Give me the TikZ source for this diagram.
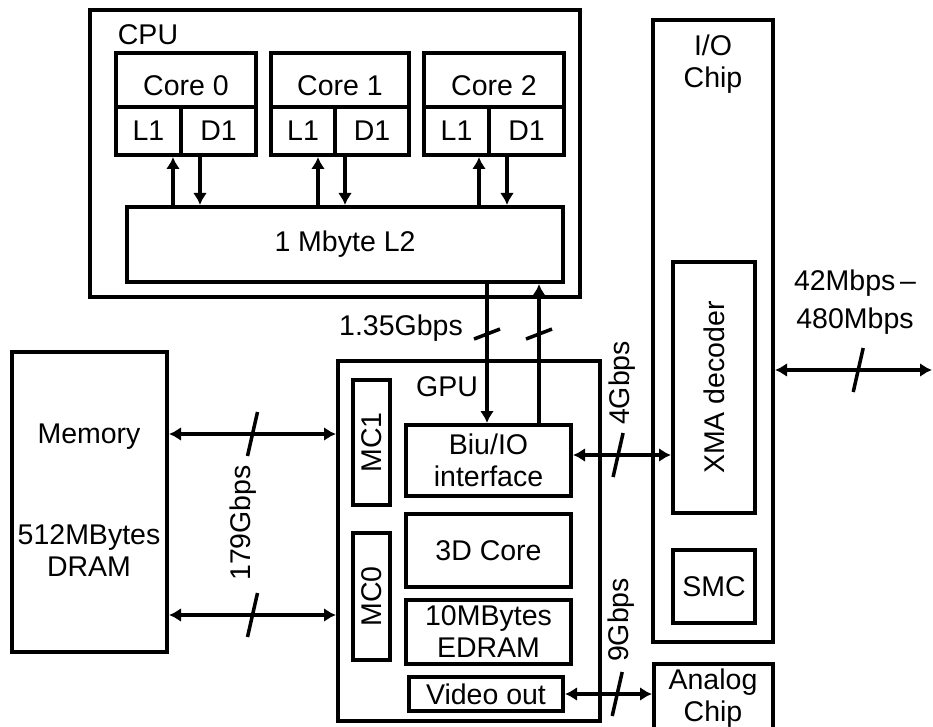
\documentclass[tikz,border=0pt]{standalone}
\usepackage{fontspec}
\setmainfont{Liberation Sans}
\usetikzlibrary{arrows.meta,calc}
\newcommand{\cutH}[1]{\draw[cutmark] ($(#1)+(-5,22)$) -- ($(#1)+(5,-22)$);}
\newcommand{\cutV}[1]{\draw[cutmark] ($(#1)+(-13,5)$) -- ($(#1)+(13,-5)$);}

\begin{document}
\begin{tikzpicture}[x=1pt,y=-1pt,font=\fontsize{28.5}{32}\selectfont,
  blk/.style={draw,line width=4pt,inner sep=0pt,align=center},
  corebox/.style={blk,text height=32pt,text depth=0pt},
  lbl/.style={inner sep=0pt,align=center},
  arr/.style={line width=3.5pt,-{Latex[length=12pt,width=14pt]}},
  biarr/.style={line width=3.5pt,{Latex[length=12pt,width=14pt]}-{Latex[length=12pt,width=14pt]}},
  cutmark/.style={line width=3.5pt}]
\useasboundingbox (0,0) rectangle (933,727);
% ---------------- CPU ----------------
\node[blk,minimum width=490pt,minimum height=287pt] (cpu) at (335,153.5) {};
\node[lbl] (cpulab) at (148,35) {CPU};
\node[corebox,minimum width=140pt,minimum height=54pt] (core0) at (186,80) {Core 0};
\node[blk,minimum width=65pt,minimum height=48pt] (l1a) at (148.5,131) {L1};
\node[blk,minimum width=75pt,minimum height=48pt] (d1a) at (218.5,131) {D1};
\node[corebox,minimum width=138pt,minimum height=54pt] (core1) at (340,80) {Core 1};
\node[blk,minimum width=64pt,minimum height=48pt] (l1b) at (303,131) {L1};
\node[blk,minimum width=74pt,minimum height=48pt] (d1b) at (372,131) {D1};
\node[corebox,minimum width=140pt,minimum height=54pt] (core2) at (494,80) {Core 2};
\node[blk,minimum width=65pt,minimum height=48pt] (l1c) at (456.5,131) {L1};
\node[blk,minimum width=75pt,minimum height=48pt] (d1c) at (526.5,131) {D1};
\node[blk,minimum width=436pt,minimum height=75pt] (l2) at (345,244.5) {1 Mbyte L2};
% core <-> L2 links
\coordinate (u0) at (173,0);
\coordinate (w0) at (200,0);
\coordinate (u1) at (318,0);
\coordinate (w1) at (345,0);
\coordinate (u2) at (479,0);
\coordinate (w2) at (507,0);
\draw[arr] (l2.north -| u0) -- (l1a.south -| u0);
\draw[arr] (d1a.south -| w0) -- (l2.north -| w0);
\draw[arr] (l2.north -| u1) -- (l1b.south -| u1);
\draw[arr] (d1b.south -| w1) -- (l2.north -| w1);
\draw[arr] (l2.north -| u2) -- (l1c.south -| u2);
\draw[arr] (d1c.south -| w2) -- (l2.north -| w2);
% ---------------- GPU ----------------
\node[blk,minimum width=262pt,minimum height=360pt] (gpu) at (469,541) {};
\node[lbl] (gpulab) at (447,387) {GPU};
\node[blk,rotate=90,minimum width=125pt,minimum height=37pt] (mc1) at (371.5,442.5) {MC1};
\node[blk,rotate=90,minimum width=127pt,minimum height=37pt] (mc0) at (371.5,596.5) {MC0};
\node[blk,minimum width=165pt,minimum height=71pt] (biu) at (488.5,460.5) {Biu/IO\\interface};
\node[blk,minimum width=165pt,minimum height=73pt] (core3d) at (488.5,550.5) {3D Core};
\node[blk,minimum width=165pt,minimum height=64pt] (edram) at (488.5,632) {10MBytes\\EDRAM};
\node[blk,minimum width=154pt,minimum height=34pt] (vid) at (486,694) {Video out};
% L2 <-> GPU
\coordinate (dn) at (487,0);
\coordinate (up) at (539,0);
\draw[arr] (l2.south -| dn) -- (biu.north -| dn) coordinate[pos=0.36] (cutdn);
\draw[arr] (biu.north -| up) -- (l2.south -| up) coordinate[pos=0.64] (cutup);
\cutV{cutdn}
\cutV{cutup}
\node[lbl] (l2bw) at (401,328) {1.35Gbps};
% ---------------- Memory ----------------
\node[blk,minimum width=155pt,minimum height=300pt] (mem) at (89.5,502) {};
\node[lbl] (memlab) at (89,437) {Memory};
\node[lbl] (dramlab) at (89,551) {512MBytes\\DRAM};
\coordinate (ma) at (0,434);
\coordinate (mb) at (0,615);
\draw[biarr] (mem.east |- ma) -- (gpu.west |- ma) coordinate[pos=0.5] (cutma);
\draw[biarr] (mem.east |- mb) -- (gpu.west |- mb) coordinate[pos=0.5] (cutmb);
\cutH{cutma}
\cutH{cutmb}
\node[lbl,rotate=90] (membw) at (243,523) {179Gbps};
% ---------------- I/O chip ----------------
\node[blk,minimum width=120pt,minimum height=622pt] (io) at (713,331) {};
\node[lbl] (iolab) at (713,64) {I/O\\Chip};
\node[blk,rotate=90,minimum width=251pt,minimum height=82pt] (xma) at (714,387.5) {XMA decoder};
\node[blk,minimum width=82pt,minimum height=73pt] (smc) at (714,586.5) {SMC};
\node[blk,minimum width=119pt,minimum height=82pt] (ana) at (713.5,705) {};
\node[lbl] (analab) at (713,698) {Analog\\Chip};
% GPU <-> I/O, video, external
\coordinate (rb) at (0,455);
\draw[biarr] (biu.east |- rb) -- (xma.north |- rb) coordinate[pos=0.46] (cutio);
\cutH{cutio}
\node[lbl,rotate=90] (iobw) at (622,383) {4Gbps};
\draw[biarr] (vid.east) -- (ana.west |- vid.east) coordinate[pos=0.6] (cutvid);
\cutH{cutvid}
\node[lbl,rotate=90] (vidbw) at (621,620) {9Gbps};
\coordinate (ext) at (932,370);
\draw[biarr] (io.east |- ext) -- (ext) coordinate[pos=0.53] (cutext);
\cutH{cutext}
\node[lbl,font=\fontsize{28.5}{38}\selectfont] (extbw) at (855,302) {42Mbps\,--\\480Mbps};
\end{tikzpicture}
\end{document}
